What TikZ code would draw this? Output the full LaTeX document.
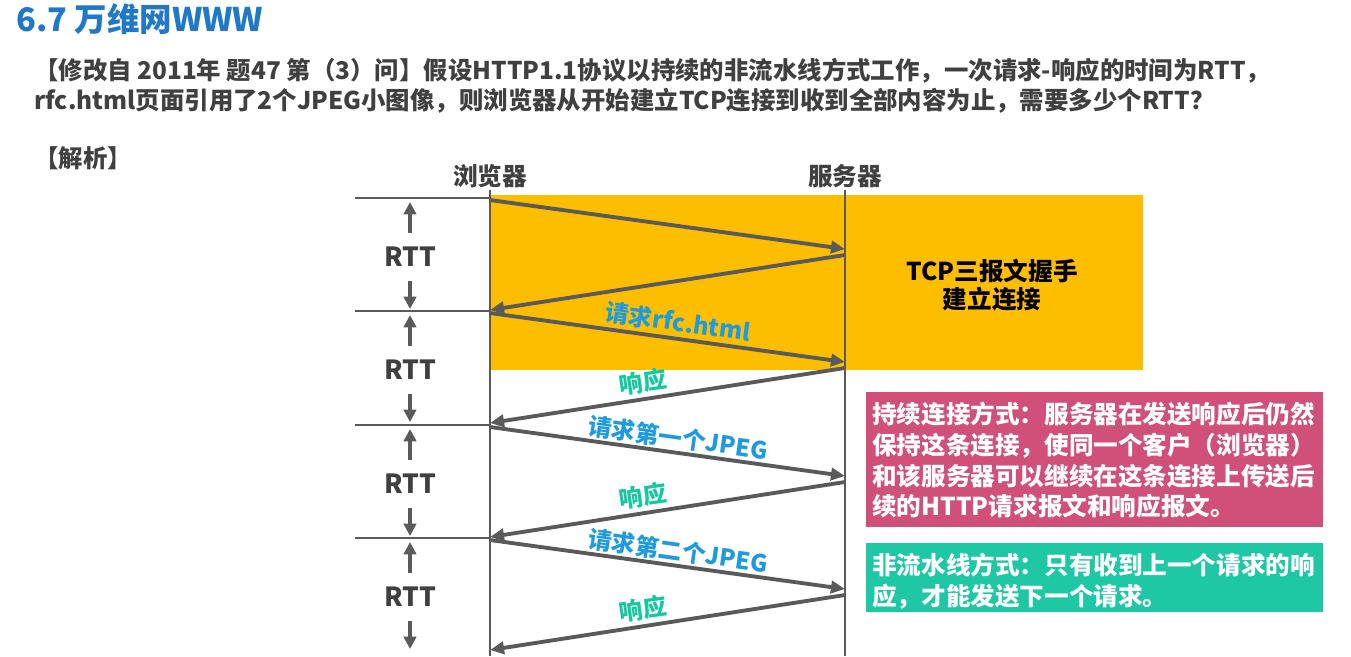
\documentclass[tikz,border=0pt]{standalone}
\usepackage{fontspec}
\setmainfont{Noto Sans CJK SC}
\usetikzlibrary{arrows.meta}
\definecolor{titleblue}{RGB}{31,120,200}
\definecolor{txtgray}{RGB}{64,64,64}
\definecolor{lineg}{RGB}{90,90,90}
\definecolor{orangebg}{RGB}{253,190,0}
\definecolor{reqblue}{RGB}{30,155,224}
\definecolor{respteal}{RGB}{20,200,160}
\definecolor{pinkbox}{RGB}{208,80,122}
\definecolor{tealbox}{RGB}{30,200,165}
\tikzset{
  msg/.style={lineg,line width=2.2pt,-{Triangle[length=8pt,width=7pt]}},
  rttarr/.style={lineg,line width=2pt,-{Triangle[length=7pt,width=7pt]}},
  tick/.style={lineg,line width=1.6pt},
  reqlbl/.style={reqblue,font=\bfseries\fontsize{13.5}{15}\selectfont},
  resplbl/.style={respteal,font=\bfseries\fontsize{13.5}{15}\selectfont},
  rttlbl/.style={txtgray,font=\bfseries\fontsize{15}{17}\selectfont},
  boxtxt/.style={white,font=\bfseries\fontsize{14}{17.5}\selectfont,align=left,anchor=north west}
}
\begin{document}
\begin{tikzpicture}[x=0.02cm,y=-0.02cm]
\useasboundingbox (0,0) rectangle (1351,656);
\fill[orangebg] (490,195) rectangle (1143,370);
\fill[pinkbox] (866,392) rectangle (1323,527);
\fill[tealbox] (866,543) rectangle (1323,612);
% header text
\node[anchor=west,titleblue,font=\bfseries\fontsize{18.5}{20}\selectfont] (title) at (10,19) {6.7 万维网WWW};
\node[anchor=west,txtgray,font=\bfseries\fontsize{13.9}{15}\selectfont] (q1) at (28,71) {【修改自 2011年 题47 第（3）问】假设HTTP1.1协议以持续的非流水线方式工作，一次请求-响应的时间为RTT，};
\node[anchor=west,txtgray,font=\bfseries\fontsize{13.9}{15}\selectfont] (q2) at (28,101) {rfc.html页面引用了2个JPEG小图像，则浏览器从开始建立TCP连接到收到全部内容为止，需要多少个RTT？};
\node[anchor=west,txtgray,font=\bfseries\fontsize{13.9}{15}\selectfont] (jx) at (28,158) {【解析】};
\node[txtgray,font=\bfseries\fontsize{14}{15}\selectfont] (browser) at (490,176) {浏览器};
\node[txtgray,font=\bfseries\fontsize{14}{15}\selectfont] (server) at (845,176) {服务器};
% time lines
\coordinate (b0) at (490,190); \coordinate (b1) at (490,656);
\coordinate (s0) at (845,190); \coordinate (s1) at (845,656);
\draw[lineg,line width=1pt] (b0) -- (b1);
\draw[lineg,line width=1pt] (s0) -- (s1);
% RTT marks
\foreach \i/\y in {0/198,1/311,2/425,3/538}{
  \coordinate (t\i) at (355,\y); \coordinate (u\i) at (490,\y);
  \draw[tick] (t\i) -- (u\i);
  \node[rttlbl] (rtt\i) at (410,\y+59) {RTT};
  \draw[rttarr] (410,\y+35) -- (410,\y+4);
  \draw[rttarr] (410,\y+83) -- (410,\y+111);
}
% messages
\foreach \i/\y in {0/198,1/311,2/425,3/538}{
  \coordinate (p\i) at (490,\y+2); \coordinate (q\i) at (845,\y+51);
  \coordinate (r\i) at (845,\y+57); \coordinate (w\i) at (490,\y+112);
  \draw[msg] (p\i) -- (q\i);
  \draw[msg] (r\i) -- (w\i);
}
\node[reqlbl,rotate=-8] (req0) at (678,322) {请求rfc.html};
\node[resplbl,rotate=8] (resp0) at (643,382) {响应};
\node[reqlbl,rotate=-8] (req1) at (678,438) {请求第一个JPEG};
\node[resplbl,rotate=8] (resp1) at (643,496) {响应};
\node[reqlbl,rotate=-8] (req2) at (678,551) {请求第二个JPEG};
\node[resplbl,rotate=8] (resp2) at (643,609) {响应};
% notes
\node[black,font=\bfseries\fontsize{14}{16}\selectfont,align=center] (tcp) at (992,285) {TCP三报文握手\\建立连接};
\node[boxtxt] (note1) at (866,396) {持续连接方式：服务器在发送响应后仍然\\保持这条连接，使同一个客户（浏览器）\\和该服务器可以继续在这条连接上传送后\\续的HTTP请求报文和响应报文。};
\node[boxtxt] (note2) at (866,547) {非流水线方式：只有收到上一个请求的响\\应，才能发送下一个请求。};
\end{tikzpicture}
\end{document}
